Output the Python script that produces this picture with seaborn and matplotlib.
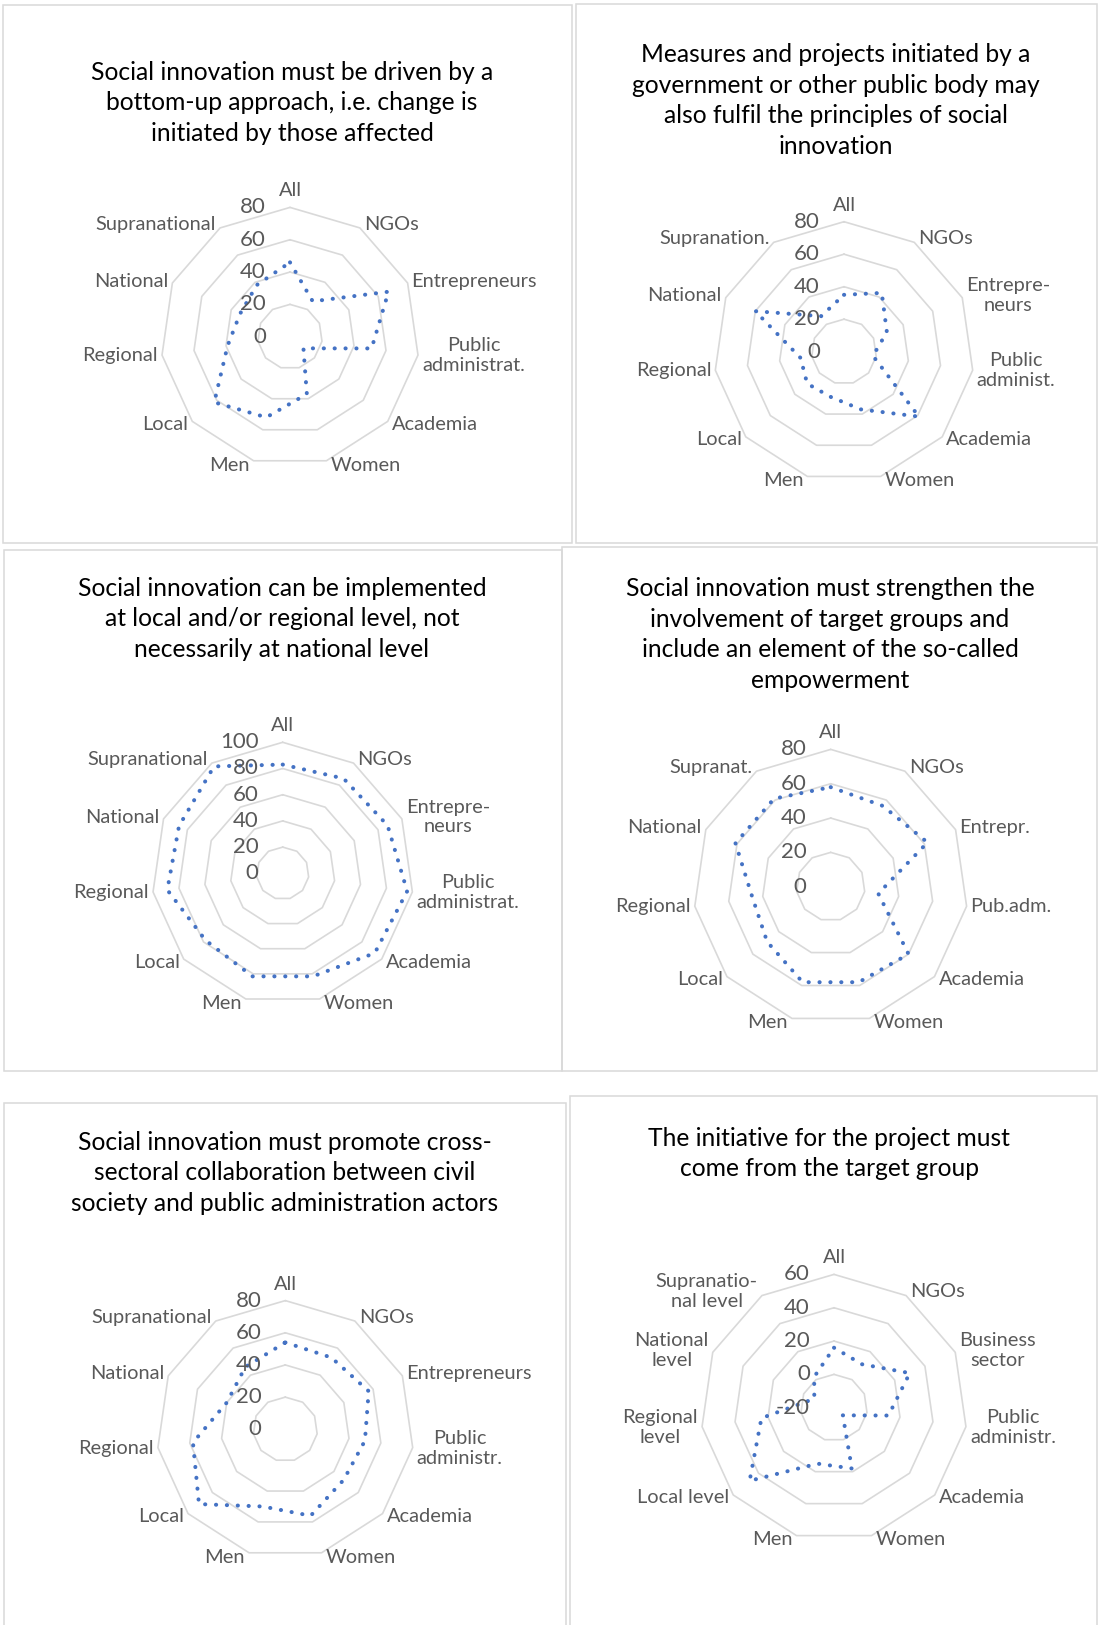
import numpy as np
import pandas as pd
import matplotlib
matplotlib.use('Agg')
import matplotlib.pyplot as plt
from matplotlib.patches import Rectangle
import seaborn as sns

sns.set_style('white')
plt.rcParams['font.family'] = ['Lato', 'DejaVu Sans']

W, H = 1101, 1625

# ---- data (percent agreement per group) ----
cats1 = ['All', 'NGOs', 'Entrepreneurs', 'Public\nadministrat.', 'Academia', 'Women', 'Men',
         'Local', 'Regional', 'National', 'Supranational']
vals1 = [46, 26, 67, 51, 11, 37, 52, 62, 39, 34, 38]

cats2 = ['All', 'NGOs', 'Entrepre-\nneurs', 'Public\nadminist.', 'Academia', 'Women', 'Men',
         'Local', 'Regional', 'National', 'Supranation.']
vals2 = [35, 43, 29, 18, 61, 37, 29, 30, 27, 60, 26]

cats3 = ['All', 'NGOs', 'Entrepre-\nneurs', 'Public\nadministrat.', 'Academia', 'Women', 'Men',
         'Local', 'Regional', 'National', 'Supranational']
vals3 = [83, 86, 88, 96, 93, 82, 82, 78, 89, 87, 97]

cats4 = ['All', 'NGOs', 'Entrepr.', 'Pub.adm.', 'Academia', 'Women', 'Men',
         'Local', 'Regional', 'National', 'Supranat.']
vals4 = [58, 56, 62, 28, 60, 58, 58, 49, 46, 61, 61]

cats5 = ['All', 'NGOs', 'Entrepreneurs', 'Public\nadministr.', 'Academia', 'Women', 'Men',
         'Local', 'Regional', 'National', 'Supranational']
vals5 = [54, 53, 57, 50, 48, 56, 50, 71, 58, 40, 46]

cats6 = ['All', 'NGOs', 'Business\nsector', 'Public\nadministr.', 'Academia', 'Women', 'Men',
         'Local level', 'Regional\nlevel', 'National\nlevel', 'Supranatio-\nnal level']
vals6 = [16, 11, 30, 13, -13, 18, 15, 47, 24, -7, 2]

title1 = 'Social innovation must be driven by a\nbottom-up approach, i.e. change is\ninitiated by those affected'
title2 = ('Measures and projects initiated by a\ngovernment or other public body may\n'
          'also fulfil the principles of social\ninnovation')
title3 = 'Social innovation can be implemented\nat local and/or regional level, not\nnecessarily at national level'
title4 = ('Social innovation must strengthen the\ninvolvement of target groups and\n'
          'include an element of the so-called\nempowerment')
title5 = 'Social innovation must promote cross-\nsectoral collaboration between civil\nsociety and public administration actors'
title6 = 'The initiative for the project must\ncome from the target group'

BLUE = '#4472C4'
GRID = '#d9d9d9'
TXT = '#595959'

fig = plt.figure(figsize=(W / 100, H / 100), dpi=100)


def box(x0, y0, x1, y1):
    fig.add_artist(Rectangle((x0 / W, 1 - y1 / H), (x1 - x0) / W, (y1 - y0) / H,
                             transform=fig.transFigure, fill=False, ec=GRID, lw=1.1))


def title(txt, x, y_first, n_lines):
    y_mid = y_first + (n_lines - 1) * 31 / 2
    fig.text(x / W, 1 - y_mid / H, txt, ha='center', va='center', multialignment='center',
             fontsize=17.7, color='black', linespacing=1.39)


def radar(cx, cy, R, cats, vals, lo, hi, step):
    ax = fig.add_axes([(cx - R) / W, 1 - (cy + R) / H, 2 * R / W, 2 * R / H], projection='polar')
    ax.set_theta_zero_location('N')
    ax.set_theta_direction(-1)
    ax.axis('off')
    n = len(cats)
    theta = np.arange(n) * 2 * np.pi / n
    th_closed = np.append(theta, 2 * np.pi)
    ticks = np.arange(lo, hi + 1, step)
    # polygon rings (Excel style, no spokes)
    for r in ticks[1:]:
        ax.plot(th_closed, [r] * (n + 1), color=GRID, lw=1.2, zorder=1, clip_on=False)
    df = pd.DataFrame({'theta': th_closed, 'value': vals + [vals[0]]})
    sns.lineplot(data=df, x='theta', y='value', sort=False, estimator=None, ax=ax,
                 color=BLUE, lw=2.9, linestyle=(0, (0.05, 2.65)), dash_capstyle='round',
                 clip_on=False, zorder=3)
    ax.set_ylim(lo, hi)
    for t in ticks:
        ax.annotate(f'{t:g}', xy=(0, t), xytext=(-24, 0), textcoords='offset pixels',
                    ha='right', va='center', fontsize=16, color=TXT, zorder=4)
    for th, lab in zip(theta, cats):
        s, c = np.sin(th), np.cos(th)
        if abs(s) < 0.1:
            ax.annotate(lab, xy=(th, hi), xytext=(0, 11), textcoords='offset pixels',
                        ha='center', va='baseline', fontsize=14.4, color=TXT)
        else:
            ha = 'left' if s > 0 else 'right'
            ax.annotate(lab, xy=(th, hi), xytext=(4 * np.sign(s), 4.5 * c),
                        textcoords='offset pixels', ha=ha, va='center',
                        multialignment='center', fontsize=14.4, color=TXT)


box(3, 5, 572, 543)
box(576, 4, 1097, 543)
box(4, 550, 562, 1071)
box(562, 547, 1097, 1071)
box(4, 1103, 566, 1660)
box(570, 1096, 1097, 1660)

title(title1, 292, 72, 3)
title(title2, 836, 54, 4)
title(title3, 282, 588, 3)
title(title4, 830, 588, 4)
title(title5, 285, 1142, 3)
title(title6, 829, 1138, 2)

radar(290, 336.7, 129.3, cats1, vals1, 0, 80, 20)
radar(844, 351.7, 130, cats2, vals2, 0, 80, 20)
radar(282.7, 873.3, 131, cats3, vals3, 0, 100, 20)
radar(830.7, 886.7, 137.3, cats4, vals4, 0, 80, 20)
radar(285.3, 1429.3, 128.7, cats5, vals5, 0, 80, 20)
radar(834, 1407.7, 133.3, cats6, vals6, -20, 60, 20)

fig.savefig('out.png', dpi=100)
